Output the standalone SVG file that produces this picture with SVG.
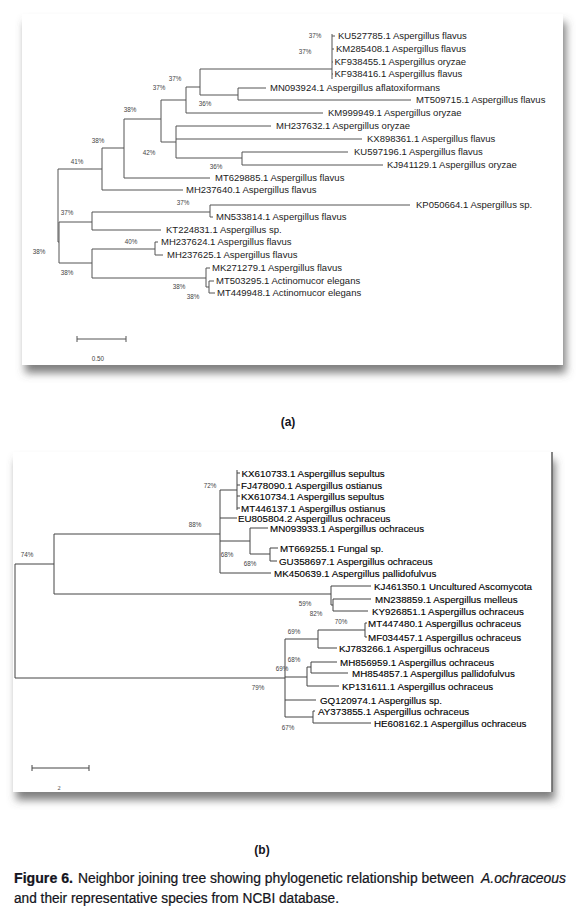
<svg xmlns="http://www.w3.org/2000/svg" width="584" height="919" viewBox="0 0 584 919">
<defs>
<filter id="sh" x="-5%" y="-5%" width="115%" height="120%">
<feGaussianBlur in="SourceAlpha" stdDeviation="4"/>
<feOffset dx="3" dy="8" result="b"/>
<feFlood flood-color="#555" flood-opacity="0.75"/>
<feComposite in2="b" operator="in"/>
<feMerge><feMergeNode/><feMergeNode in="SourceGraphic"/></feMerge>
</filter>
<style>
.br{fill:none;stroke:#555;stroke-width:1}
.brb{fill:none;stroke:#444;stroke-width:1}
.la text{font-family:"Liberation Sans",Arial,sans-serif;font-size:9.5px;fill:#222}
.lb text{font-family:"Liberation Sans",Arial,sans-serif;font-size:9.8px;fill:#000;stroke:#000;stroke-width:0.12}
.bs{font-family:"Liberation Sans",Arial,sans-serif;font-size:6.3px;fill:#444;text-anchor:middle}
.cap{font-family:"Liberation Sans",Arial,sans-serif;font-size:12.7px;fill:#141420;stroke:#141420;stroke-width:0.2}
.pl{font-family:"Liberation Sans",Arial,sans-serif;font-size:12px;font-weight:bold;fill:#141420;text-anchor:middle}
</style>
</defs>
<rect width="584" height="919" fill="#fff"/>
<g id="panel-a">
<rect x="22" y="14" width="541" height="351" fill="#fff" filter="url(#sh)"/>
</g>
<g id="panel-b">
<rect x="13" y="452" width="539" height="340" fill="#fff" filter="url(#sh)"/>
<line x1="552" y1="452" x2="552" y2="792" stroke="#666" stroke-width="1.6"/>
</g>
<g id="connectors-a" class="br">
<path d="M332,34V79M332,36H335M332,49H334M332,62H333M332,74H333M200,69H332M200,69V95M200,95H238M238,88V100M238,88H266M238,100H411M186,87V113M186,87H200M186,113H323M161,100V142M161,100H186M176,126V158M161,142H176M176,126H271M176,139H362M176,158H242M242,152V165M242,152H348M242,165H383M124,119V178M124,119H161M124,178H210M102,148V190M102,148H124M102,190H183M58,169V242M58,169H102M58,242H59M59,222V263M59,222H92M59,263H92M92,212V230M92,212H210M92,230H161M210,205V217M210,205H410M210,217H213M92,249V278M92,249H155M92,278H206M155,242V255M155,242H158M155,255H163M206,268V287M206,268H210M206,287H209M209,281V293M209,281H214M209,293H215"/>
<path d="M77,339H126M77,336V342M126,336V342"/>
</g>
<g id="bootstrap-a">
<text class="bs" x="315" y="38">37%</text>
<text class="bs" x="305" y="54">37%</text>
<text class="bs" x="175" y="81">37%</text>
<text class="bs" x="159" y="90">37%</text>
<text class="bs" x="205" y="106">36%</text>
<text class="bs" x="130" y="112">38%</text>
<text class="bs" x="98" y="143">38%</text>
<text class="bs" x="149" y="155">42%</text>
<text class="bs" x="77" y="164">41%</text>
<text class="bs" x="216" y="169">36%</text>
<text class="bs" x="183" y="205">37%</text>
<text class="bs" x="67" y="215">37%</text>
<text class="bs" x="131" y="244">40%</text>
<text class="bs" x="39" y="254">38%</text>
<text class="bs" x="67" y="275">38%</text>
<text class="bs" x="179" y="289">38%</text>
<text class="bs" x="193" y="299">38%</text>
<text class="bs" x="98" y="361">0.50</text>
</g>
<g class="la">
<g id="a-KU527785"><text x="338" y="39.4">KU527785.1 Aspergillus flavus</text></g>
<g id="a-KM285408"><text x="336" y="52.4">KM285408.1 Aspergillus flavus</text></g>
<g id="a-KF938455"><text x="334.5" y="65.4">KF938455.1 Aspergillus oryzae</text></g>
<g id="a-KF938416"><text x="334.5" y="77.4">KF938416.1 Aspergillus flavus</text></g>
<g id="a-MN093924"><text x="270" y="91.4">MN093924.1 Aspergillus aflatoxiformans</text></g>
<g id="a-MT509715"><text x="416" y="103.4">MT509715.1 Aspergillus flavus</text></g>
<g id="a-KM999949"><text x="328" y="116.4">KM999949.1 Aspergillus oryzae</text></g>
<g id="a-MH237632"><text x="276" y="129.4">MH237632.1 Aspergillus oryzae</text></g>
<g id="a-KX898361"><text x="367" y="142.4">KX898361.1 Aspergillus flavus</text></g>
<g id="a-KU597196"><text x="354" y="155.4">KU597196.1 Aspergillus flavus</text></g>
<g id="a-KJ941129"><text x="387" y="168.4">KJ941129.1 Aspergillus oryzae</text></g>
<g id="a-MT629885"><text x="215" y="181.4">MT629885.1 Aspergillus flavus</text></g>
<g id="a-MH237640"><text x="186" y="193.4">MH237640.1 Aspergillus flavus</text></g>
<g id="a-KP050664"><text x="416" y="208.4">KP050664.1 Aspergillus sp.</text></g>
<g id="a-MN533814"><text x="216" y="220.4">MN533814.1 Aspergillus flavus</text></g>
<g id="a-KT224831"><text x="166" y="233.4">KT224831.1 Aspergillus sp.</text></g>
<g id="a-MH237624"><text x="161" y="245.4">MH237624.1 Aspergillus flavus</text></g>
<g id="a-MH237625"><text x="167" y="258.4">MH237625.1 Aspergillus flavus</text></g>
<g id="a-MK271279"><text x="212" y="271.4">MK271279.1 Aspergillus flavus</text></g>
<g id="a-MT503295"><text x="216" y="284.4">MT503295.1 Actinomucor elegans</text></g>
<g id="a-MT449948"><text x="217" y="296.4">MT449948.1 Actinomucor elegans</text></g>
</g>
<text class="pl" x="288" y="426">(a)</text>
<g id="connectors-b" class="brb">
<path d="M237,470V510M237,473H240M237,485H240M237,496H240M237,508H240M220,490H237M220,490V573M220,518H237M220,541H250M250,528V554M250,528H268M250,554H270M270,548V561M270,548H278M270,561H277M220,573H271M54,534H220M54,534V594M54,594H331M331,586V605M331,586H371M331,605H333M333,599V611M333,599H371M333,611H368M15,564V678M15,564H54M15,678H285M285,639V717M285,639H318M318,630V648M318,630H365M318,648H337M365,623V637M365,623H367M365,637H367M285,677H307M307,667V686M307,667H311M307,686H339M311,662V673M311,662H337M311,673H348M285,700H316M285,717H313M313,711V723M313,711H315M313,723H371"/>
<path d="M32,768H89M32,765V771M89,765V771"/>
</g>
<g id="bootstrap-b">
<text class="bs" x="210" y="488">72%</text>
<text class="bs" x="195" y="527">88%</text>
<text class="bs" x="227" y="557">68%</text>
<text class="bs" x="250" y="566">68%</text>
<text class="bs" x="27" y="557">74%</text>
<text class="bs" x="305" y="606">59%</text>
<text class="bs" x="316" y="616">82%</text>
<text class="bs" x="341" y="624">70%</text>
<text class="bs" x="294" y="634">69%</text>
<text class="bs" x="294" y="662">68%</text>
<text class="bs" x="282" y="671">69%</text>
<text class="bs" x="258" y="690">79%</text>
<text class="bs" x="288" y="730">67%</text>
<text class="bs" x="59" y="790" style="font-family:'Liberation Serif',serif">2</text>
</g>
<g class="lb">
<g id="b-KX610733"><text x="241.5" y="476.5">KX610733.1 Aspergillus sepultus</text></g>
<g id="b-FJ478090"><text x="241" y="488.5">FJ478090.1 Aspergillus ostianus</text></g>
<g id="b-KX610734"><text x="241" y="499.5">KX610734.1 Aspergillus sepultus</text></g>
<g id="b-MT446137"><text x="241" y="511.5">MT446137.1 Aspergillus ostianus</text></g>
<g id="b-EU805804"><text x="238" y="521.5">EU805804.2 Aspergillus ochraceus</text></g>
<g id="b-MN093933"><text x="270" y="531.5">MN093933.1 Aspergillus ochraceus</text></g>
<g id="b-MT669255"><text x="280" y="551.5">MT669255.1 Fungal sp.</text></g>
<g id="b-GU358697"><text x="279" y="564.5">GU358697.1 Aspergillus ochraceus</text></g>
<g id="b-MK450639"><text x="274" y="576.5">MK450639.1 Aspergillus pallidofulvus</text></g>
<g id="b-KJ461350"><text x="374" y="589.5">KJ461350.1 Uncultured Ascomycota</text></g>
<g id="b-MN238859"><text x="375" y="602.5">MN238859.1 Aspergillus melleus</text></g>
<g id="b-KY926851"><text x="372" y="614.5">KY926851.1 Aspergillus ochraceus</text></g>
<g id="b-MT447480"><text x="368" y="626.5">MT447480.1 Aspergillus ochraceus</text></g>
<g id="b-MF034457"><text x="368" y="640.5">MF034457.1 Aspergillus ochraceus</text></g>
<g id="b-KJ783266"><text x="339" y="651.5">KJ783266.1 Aspergillus ochraceus</text></g>
<g id="b-MH856959"><text x="340" y="665.5">MH856959.1 Aspergillus ochraceus</text></g>
<g id="b-MH854857"><text x="352" y="676.5">MH854857.1 Aspergillus pallidofulvus</text></g>
<g id="b-KP131611"><text x="342" y="689.5">KP131611.1 Aspergillus ochraceus</text></g>
<g id="b-GQ120974"><text x="320" y="703.5">GQ120974.1 Aspergillus sp.</text></g>
<g id="b-AY373855"><text x="318" y="714.5">AY373855.1 Aspergillus ochraceus</text></g>
<g id="b-HE608162"><text x="374" y="726.5">HE608162.1 Aspergillus ochraceus</text></g>
</g>
<text class="pl" x="262" y="854">(b)</text>
<g id="caption" transform="translate(0,883) scale(1,1.12)">
<text class="cap" x="14" y="0" textLength="59" lengthAdjust="spacingAndGlyphs" font-weight="bold">Figure 6.</text>
<text class="cap" x="78" y="0" textLength="396" lengthAdjust="spacingAndGlyphs">Neighbor joining tree showing phylogenetic relationship between</text>
<text class="cap" x="481" y="0" textLength="85" lengthAdjust="spacingAndGlyphs" font-style="italic">A.ochraceous</text>
<text class="cap" x="14" y="17.9" textLength="325" lengthAdjust="spacingAndGlyphs">and their representative species from NCBI database.</text>
</g>
</svg>
